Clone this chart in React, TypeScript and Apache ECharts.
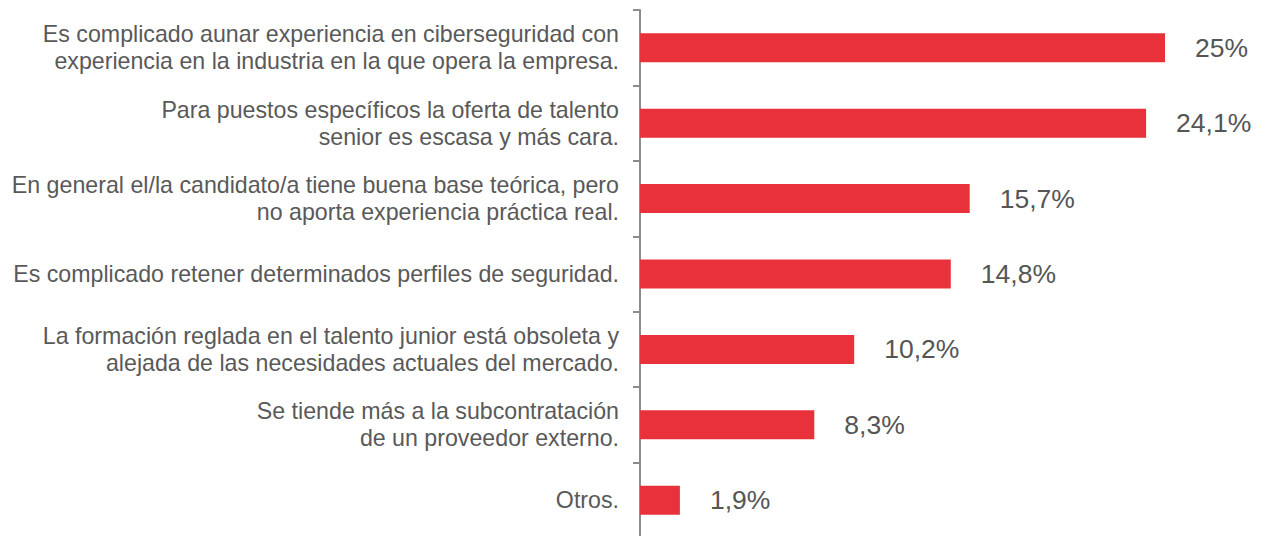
import React, { useEffect, useRef } from "react";
import * as echarts from "echarts";

const categories: string[] = [
  "Es complicado aunar experiencia en ciberseguridad con\nexperiencia en la industria en la que opera la empresa.",
  "Para puestos específicos la oferta de talento\nsenior es escasa y más cara.",
  "En general el/la candidato/a tiene buena base teórica, pero\nno aporta experiencia práctica real.",
  "Es complicado retener determinados perfiles de seguridad.",
  "La formación reglada en el talento junior está obsoleta y\nalejada de las necesidades actuales del mercado.",
  "Se tiende más a la subcontratación\nde un proveedor externo.",
  "Otros.",
];

const values: number[] = [25, 24.1, 15.7, 14.8, 10.2, 8.3, 1.9];

export default function App() {
  const ref = useRef<HTMLDivElement>(null);
  useEffect(() => {
    if (!ref.current) return;
    const chart = echarts.init(ref.current, undefined, { renderer: "svg" });
    chart.setOption({
      animation: false,
      grid: {
        left: 640,
        top: 10,
        width: 630,
        height: 528,
        containLabel: false,
        outerBoundsMode: "none",
      },
      xAxis: {
        type: "value",
        min: 0,
        max: 30,
        show: false,
      },
      yAxis: {
        type: "category",
        inverse: true,
        data: categories,
        axisLine: { show: true, lineStyle: { color: "#8c8c8c", width: 2 } },
        axisTick: { show: true, length: 7, lineStyle: { color: "#8c8c8c", width: 2 } },
        axisLabel: {
          margin: 21,
          color: "#595959",
          fontSize: 23.2,
          lineHeight: 27,
          fontFamily: "Liberation Sans, Arial, sans-serif",
          align: "right",
        },
        splitLine: { show: false },
      },
      series: [
        {
          type: "bar",
          data: values,
          barWidth: 29,
          itemStyle: { color: "#E8313B" },
          label: {
            show: true,
            position: "right",
            distance: 30,
            color: "#555555",
            fontSize: 26.5,
            fontFamily: "Liberation Sans, Arial, sans-serif",
            formatter: (p: any) => String(p.value).replace(".", ",") + "%",
          },
        },
      ],
    });
    return () => chart.dispose();
  }, []);
  return (
    <div
      ref={ref}
      style={{ position: "absolute", left: 0, top: 0, width: 1268, height: 536 }}
    />
  );
}
